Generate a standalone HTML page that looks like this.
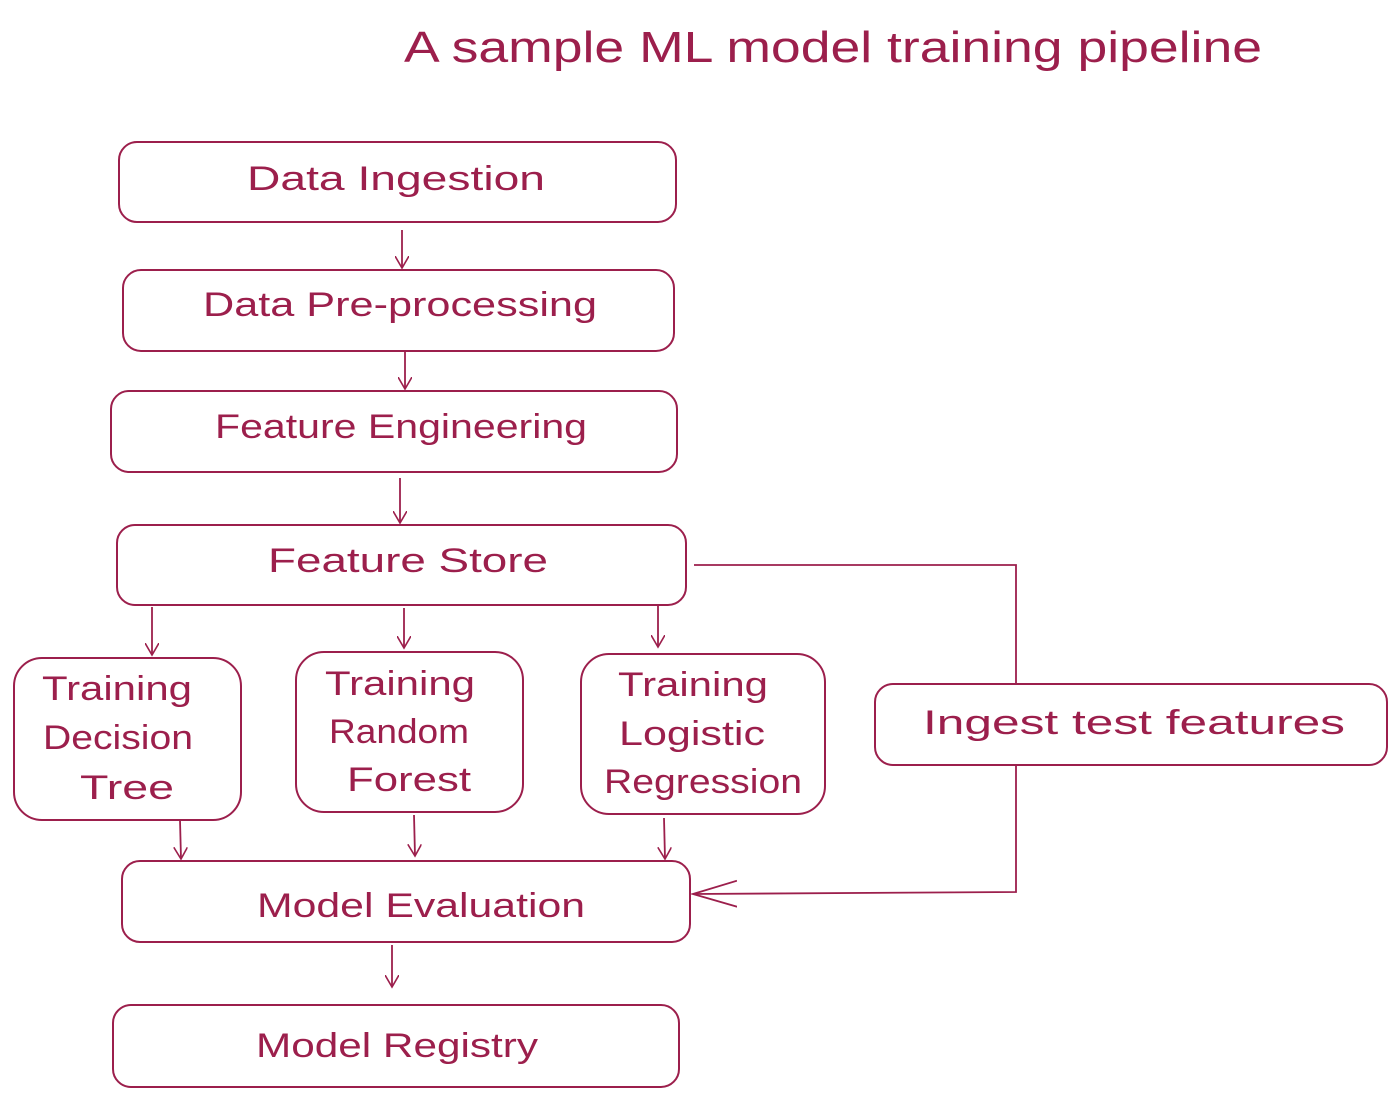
<!DOCTYPE html>
<html><head><meta charset="utf-8"><style>html,body{margin:0;padding:0;background:#fff}svg{display:block}</style></head><body>
<svg width="1400" height="1100" viewBox="0 0 1400 1100" xmlns="http://www.w3.org/2000/svg">
<defs><marker id="a" markerWidth="14" markerHeight="14" refX="12" refY="7" orient="auto" markerUnits="userSpaceOnUse"><path d="M0,0 L12,7 L0,14" fill="none" stroke="#9c1f4c" stroke-width="1.6"/></marker>
<marker id="b" markerWidth="46" markerHeight="30" refX="44" refY="15" orient="auto" markerUnits="userSpaceOnUse"><path d="M0,2 L44,15 L0,28" fill="none" stroke="#9c1f4c" stroke-width="1.8"/></marker></defs>
<g fill="none" stroke="#9c1f4c" stroke-width="2">
<polyline points="694,565 1016,565 1016,892 693,894" stroke-width="1.8" marker-end="url(#b)"/>
<g fill="#fff">
<rect x="119" y="142" width="557" height="80" rx="18"/>
<rect x="123" y="270" width="551" height="81" rx="18"/>
<rect x="111" y="391" width="566" height="81" rx="18"/>
<rect x="117" y="525" width="569" height="80" rx="18"/>
<rect x="14" y="658" width="227" height="162" rx="28"/>
<rect x="296" y="652" width="227" height="160" rx="28"/>
<rect x="581" y="654" width="244" height="160" rx="28"/>
<rect x="875" y="684" width="512" height="81" rx="18"/>
<rect x="122" y="861" width="568" height="81" rx="18"/>
<rect x="113" y="1005" width="566" height="82" rx="18"/>
</g>
<g stroke-width="1.8" marker-end="url(#a)">
<line x1="402" y1="230" x2="402" y2="268"/>
<line x1="405" y1="352" x2="405" y2="389"/>
<line x1="400" y1="478" x2="400" y2="523"/>
<line x1="152" y1="607" x2="152" y2="655"/>
<line x1="404" y1="608" x2="404" y2="648"/>
<line x1="658" y1="606" x2="658" y2="647"/>
<line x1="180" y1="820" x2="181" y2="859"/>
<line x1="414" y1="815" x2="415" y2="856"/>
<line x1="664" y1="818" x2="665" y2="859"/>
<line x1="392" y1="945" x2="392" y2="987"/>
</g>
</g>
<g fill="#9c1f4c" font-family="Liberation Sans, sans-serif" font-size="34" text-anchor="middle">
<text x="833" y="62" font-size="44" textLength="858" lengthAdjust="spacingAndGlyphs">A sample ML model training pipeline</text>
<text x="396" y="190" textLength="298" lengthAdjust="spacingAndGlyphs">Data Ingestion</text>
<text x="400" y="316" textLength="394" lengthAdjust="spacingAndGlyphs">Data Pre-processing</text>
<text x="401" y="438" textLength="372" lengthAdjust="spacingAndGlyphs">Feature Engineering</text>
<text x="408" y="572" textLength="280" lengthAdjust="spacingAndGlyphs">Feature Store</text>
<text x="117" y="700" textLength="150" lengthAdjust="spacingAndGlyphs">Training</text>
<text x="118" y="749" textLength="150" lengthAdjust="spacingAndGlyphs">Decision</text>
<text x="127" y="799" textLength="94" lengthAdjust="spacingAndGlyphs">Tree</text>
<text x="400" y="695" textLength="150" lengthAdjust="spacingAndGlyphs">Training</text>
<text x="399" y="743" textLength="140" lengthAdjust="spacingAndGlyphs">Random</text>
<text x="409" y="791" textLength="124" lengthAdjust="spacingAndGlyphs">Forest</text>
<text x="693" y="696" textLength="150" lengthAdjust="spacingAndGlyphs">Training</text>
<text x="692" y="745" textLength="146" lengthAdjust="spacingAndGlyphs">Logistic</text>
<text x="703" y="793" textLength="198" lengthAdjust="spacingAndGlyphs">Regression</text>
<text x="1134" y="734" textLength="422" lengthAdjust="spacingAndGlyphs">Ingest test features</text>
<text x="421" y="917" textLength="328" lengthAdjust="spacingAndGlyphs">Model Evaluation</text>
<text x="397" y="1057" textLength="282" lengthAdjust="spacingAndGlyphs">Model Registry</text>
</g>
</svg>
</body></html>
